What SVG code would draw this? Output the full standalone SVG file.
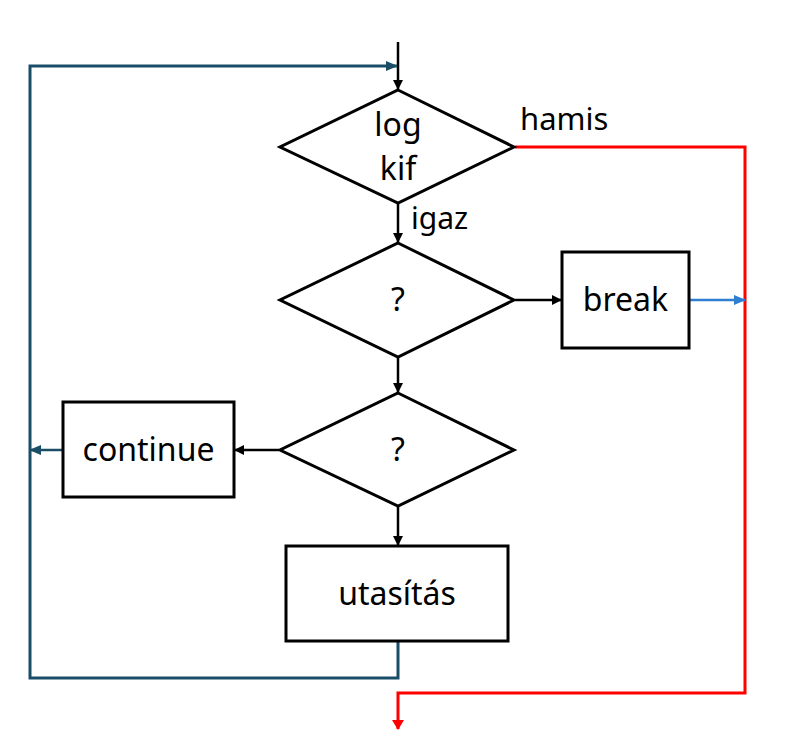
<svg xmlns="http://www.w3.org/2000/svg" width="786" height="738" viewBox="0 0 786 738">
<defs>
<marker id="ak" markerWidth="10" markerHeight="10" refX="9" refY="5" orient="auto" markerUnits="userSpaceOnUse"><path d="M0,0 L10,5 L0,10 Z" fill="#000"/></marker>
<marker id="ar" markerWidth="10" markerHeight="12" refX="9" refY="6" orient="auto" markerUnits="userSpaceOnUse"><path d="M0,0 L10,6 L0,12 Z" fill="#ff0000"/></marker>
<marker id="ab" markerWidth="12" markerHeight="10" refX="11" refY="5" orient="auto" markerUnits="userSpaceOnUse"><path d="M0,0 L12,5 L0,10 Z" fill="#2e7fd1"/></marker>
<marker id="ad" markerWidth="12" markerHeight="10" refX="11" refY="5" orient="auto" markerUnits="userSpaceOnUse"><path d="M0,0 L12,5 L0,10 Z" fill="#1a4d66"/></marker>
</defs>
<style>
.s{fill:#fff;stroke:#000;stroke-width:3}
.t{font-family:"Noto Sans","Liberation Sans",sans-serif;font-size:32px;fill:#000;text-anchor:middle}
.l{font-family:"Noto Sans","Liberation Sans",sans-serif;font-size:30px;fill:#000}
.k{fill:none;stroke:#000;stroke-width:2.5}
</style>
<rect width="786" height="738" fill="#fff"/>
<g id="connectors">
<line class="k" x1="398" y1="42" x2="398" y2="89" marker-end="url(#ak)"/>
<line class="k" x1="398" y1="204" x2="398" y2="242" marker-end="url(#ak)"/>
<line class="k" x1="515" y1="300" x2="561" y2="300" marker-end="url(#ak)"/>
<line class="k" x1="398" y1="358" x2="398" y2="392" marker-end="url(#ak)"/>
<line class="k" x1="279" y1="450" x2="235" y2="450" marker-end="url(#ak)"/>
<line class="k" x1="398" y1="507" x2="398" y2="545" marker-end="url(#ak)"/>
<polyline points="515,147 745,147 745,693 398,693 398,729" fill="none" stroke="#ff0000" stroke-width="3" marker-end="url(#ar)"/>
<line x1="690" y1="300" x2="745" y2="300" stroke="#2e7fd1" stroke-width="2.5" marker-end="url(#ab)"/>
<line x1="62" y1="450" x2="30" y2="450" stroke="#1a4d66" stroke-width="2.5" marker-end="url(#ad)"/>
<polyline points="398,642 398,678 30,678 30,66 397,66" fill="none" stroke="#1a4d66" stroke-width="3" marker-end="url(#ad)"/>
</g>
<g id="cond1">
<polygon class="s" points="398,90 514,147 398,203 280,147"/>
<text class="t" x="398" y="136">log</text>
<text class="t" x="398" y="180">kif</text>
</g>
<g id="cond2">
<polygon class="s" points="398,243 514,300 398,357 280,300"/>
<text class="t" x="398" y="311">?</text>
</g>
<g id="break">
<rect class="s" x="562" y="252" width="127" height="96"/>
<text class="t" x="625.5" y="311">break</text>
</g>
<g id="cond3">
<polygon class="s" points="398,393 514,450 398,506 280,450"/>
<text class="t" x="398" y="461">?</text>
</g>
<g id="continue">
<rect class="s" x="63" y="402" width="171" height="95"/>
<text class="t" x="148.5" y="461">continue</text>
</g>
<g id="utasitas">
<rect class="s" x="286" y="546" width="222" height="95"/>
<text class="t" x="397" y="605">utasítás</text>
</g>
<text class="l" x="520" y="130" style="font-size:31px">hamis</text>
<text class="l" x="411" y="229">igaz</text>
</svg>
